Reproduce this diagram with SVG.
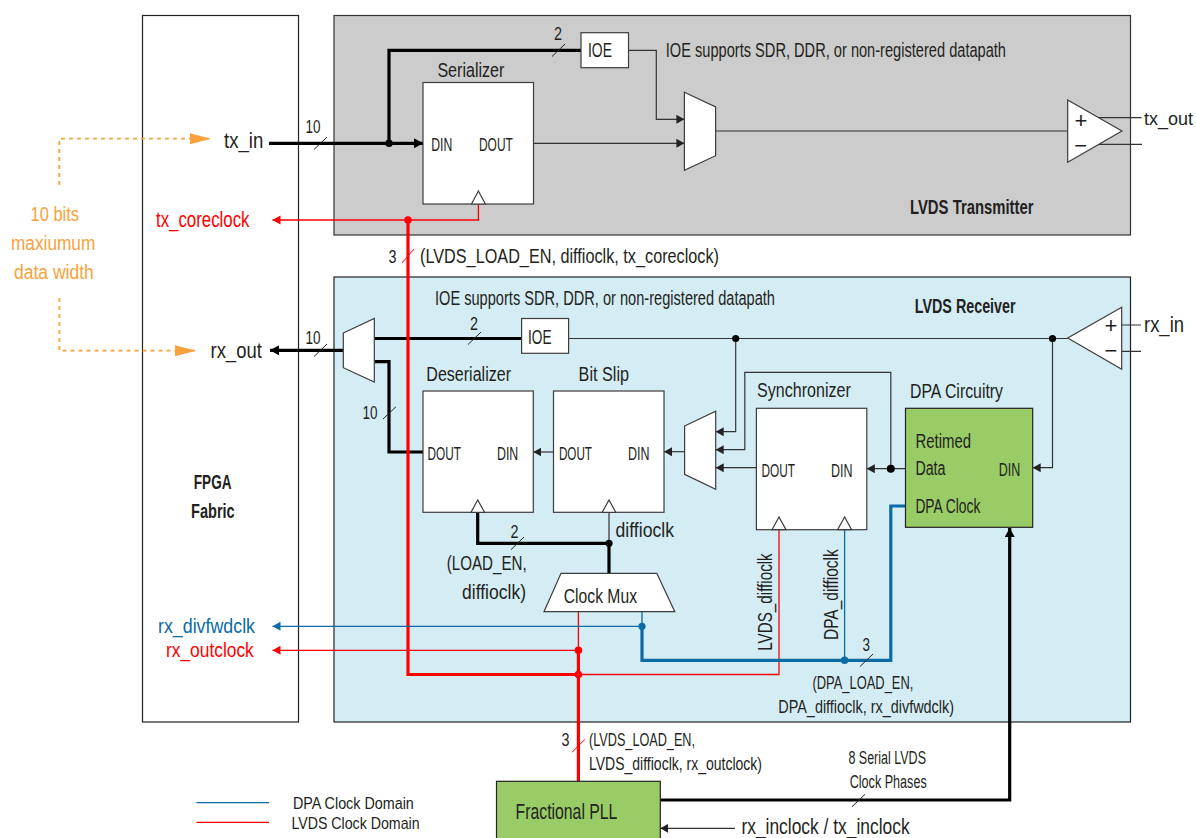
<svg xmlns="http://www.w3.org/2000/svg" width="1196" height="838" viewBox="0 0 1196 838">
<style>
text{font-family:"Liberation Sans","Open Sans",sans-serif;font-size:20px;fill:#231f20}
.b{font-weight:700;font-size:21px}
.s{font-size:18px}
.g{font-size:17px}
.l{font-size:22px}
.m{font-size:20px}
.n{font-size:18.5px}
.red{fill:#ff0000}
.blu{fill:#0a6ba5}
.org{fill:#f9a13c}
.sym{font-size:22px;text-anchor:middle}
.box{fill:#fff;stroke:#3c3c3c;stroke-width:1.2}
.grn{fill:#99cc66;stroke:#222;stroke-width:1.2}
.ln{fill:none;stroke:#333;stroke-width:1.2}
.th{fill:none;stroke:#000;stroke-width:3.2}
.r1{fill:none;stroke:#ff0000;stroke-width:1.3}
.r3{fill:none;stroke:#ff0000;stroke-width:3.2}
.b1{fill:none;stroke:#0a6ba5;stroke-width:1.3}
.b3{fill:none;stroke:#0a6ba5;stroke-width:3.2}
.sl{fill:none;stroke:#222;stroke-width:1}
.dash{fill:none;stroke:#f9a13c;stroke-width:1.8;stroke-dasharray:4 4}
</style>
<defs>
<marker id="ak" markerUnits="userSpaceOnUse" markerWidth="9" markerHeight="10" refX="8" refY="5" orient="auto"><path d="M0 0.5L8 5L0 9.5Z" fill="#222"/></marker>
<marker id="ar" markerUnits="userSpaceOnUse" markerWidth="9" markerHeight="10" refX="8" refY="5" orient="auto"><path d="M0 0.5L8 5L0 9.5Z" fill="#ff0000"/></marker>
<marker id="ab" markerUnits="userSpaceOnUse" markerWidth="9" markerHeight="10" refX="8" refY="5" orient="auto"><path d="M0 0.5L8 5L0 9.5Z" fill="#0a6ba5"/></marker>
<marker id="ao" markerUnits="userSpaceOnUse" markerWidth="22" markerHeight="12" refX="21" refY="6" orient="auto"><path d="M0 0.5L21 6L0 11.5Z" fill="#f9a13c"/></marker>
<marker id="ath" markerUnits="userSpaceOnUse" markerWidth="10" markerHeight="10" refX="9" refY="5" orient="auto"><path d="M0 0L9 5L0 10Z" fill="#000"/></marker>
</defs>

<g id="fpga-fabric">
<rect x="142.5" y="15.5" width="156" height="706.5" fill="#fff" stroke="#222" stroke-width="1.2"/>
<text class="b" x="193.8" y="489.3" textLength="37.8" lengthAdjust="spacingAndGlyphs">FPGA</text>
<text class="b" x="191" y="518.3" textLength="43.7" lengthAdjust="spacingAndGlyphs">Fabric</text>
</g>
<g id="lvds-transmitter">
<rect x="334" y="15.5" width="796.5" height="219.5" fill="#cccccc" stroke="#333" stroke-width="1.2"/>
<text class="b" x="910" y="214" textLength="123.5" lengthAdjust="spacingAndGlyphs">LVDS Transmitter</text>
<text x="665.8" y="57" textLength="340.2" lengthAdjust="spacingAndGlyphs">IOE supports SDR, DDR, or non-registered datapath</text>
</g>
<g id="lvds-receiver">
<rect x="334" y="277" width="796.5" height="445" fill="#d4edf5" stroke="#222" stroke-width="1.2"/>
<text class="b" x="914.8" y="313" textLength="100.8" lengthAdjust="spacingAndGlyphs">LVDS Receiver</text>
<text x="435" y="305" textLength="340" lengthAdjust="spacingAndGlyphs">IOE supports SDR, DDR, or non-registered datapath</text>
</g>

<g id="connectors">
<path class="ln" d="M628.5 50.3H656.3V119.3H684.4" marker-end="url(#ak)"/>
<path class="ln" d="M533.5 143.3H684.4" marker-end="url(#ak)"/>
<path class="ln" d="M715.6 131H1067.7"/>
<path class="ln" d="M1098 117.7H1141.5M1098 144.3H1142"/>
<path class="ln" d="M1121.7 325H1141M1121.7 351.3H1141"/>
<path class="ln" d="M568.6 338.5H1067.7"/>
<path class="ln" d="M735.7 338.5V431.7H715.7" marker-end="url(#ak)"/>
<path class="ln" d="M890.8 468.7V372.3H744.8V449.7H715.7" marker-end="url(#ak)"/>
<path class="ln" d="M756.4 467.7H715.7" marker-end="url(#ak)"/>
<path class="ln" d="M684.6 451.7H664" marker-end="url(#ak)"/>
<path class="ln" d="M553.5 452H533.3" marker-end="url(#ak)"/>
<path class="ln" d="M905.5 468.7H866.8" marker-end="url(#ak)"/>
<path class="ln" d="M1052.5 338.5V467.7H1032.7" marker-end="url(#ak)"/>
<path class="ln" d="M609 543.3V512.3"/>
<path class="ln" d="M735 828.3H660.3" marker-end="url(#ak)"/>
<path class="th" d="M269 143.3H423" marker-end="url(#ath)"/>
<path class="th" d="M389 143.3V50.3H581"/>
<path class="th" d="M343.3 350.3H270" marker-end="url(#ath)"/>
<path class="th" d="M374.3 338.5H521.6"/>
<path class="th" d="M374.3 361.7H389V452H423"/>
<path class="th" d="M477.7 512.3V543.3H609"/>
<path class="th" d="M609 543.3V573.3"/>
<path class="th" d="M660.3 800H1009.7V528" marker-end="url(#ath)"/>
<path class="r1" d="M478.4 204V220H272.5" marker-end="url(#ar)"/>
<path class="r3" d="M408 220V674.5H578.4"/>
<path class="r3" d="M578.4 650.3V781.3"/>
<path class="r1" d="M578.4 611.7V650.3H272.5" marker-end="url(#ar)"/>
<path class="r1" d="M578.4 674.5H779V529.7"/>
<path class="b1" d="M642 611.7V626.3H272.5" marker-end="url(#ab)"/>
<path class="b1" d="M844.6 529.7V660.3"/>
<path class="b3" d="M905.5 506H890.8V660.3H642V626.3"/>
<path class="dash" d="M59.3 185V138.7H211" marker-end="url(#ao)"/>
<path class="dash" d="M59.3 298V350.7H196" marker-end="url(#ao)"/>
<path class="b1" d="M196.4 802.7H269"/>
<path class="r1" d="M196.4 822.3H269"/>
<circle cx="389" cy="143.3" r="3.8" fill="#000"/>
<circle cx="408" cy="220" r="3.8" fill="#ff0000"/>
<circle cx="735.7" cy="338.5" r="3.6" fill="#000"/>
<circle cx="1052.5" cy="338.5" r="3.6" fill="#000"/>
<circle cx="890.8" cy="468.7" r="4" fill="#000"/>
<circle cx="609" cy="543.3" r="3.6" fill="#000"/>
<circle cx="642" cy="626.3" r="3.6" fill="#0a6ba5"/>
<circle cx="844.6" cy="660.3" r="3.8" fill="#0a6ba5"/>
<circle cx="578.4" cy="650.3" r="3.8" fill="#ff0000"/>
<circle cx="578.4" cy="674.5" r="3.8" fill="#ff0000"/>
<path class="sl" d="M314 149.5L327 137M314 356.5L327 344M552 56.5L565 44M468 344.5L481 332M383 419L396 406.7M511 549.7L524 537M860 666.5L873 654M852 806.7L865 794.3"/>
<path class="sl" style="stroke:#ff0000" d="M402 263L414 249M572 752.3L585 739.3"/>
<text class="s" x="305.5" y="133" textLength="15" lengthAdjust="spacingAndGlyphs">10</text>
<text class="s" x="305.5" y="344" textLength="15" lengthAdjust="spacingAndGlyphs">10</text>
<text class="s" x="362.4" y="419" textLength="15" lengthAdjust="spacingAndGlyphs">10</text>
<text class="s" x="554" y="40" textLength="8" lengthAdjust="spacingAndGlyphs">2</text>
<text class="s" x="470" y="330" textLength="8" lengthAdjust="spacingAndGlyphs">2</text>
<text class="s" x="510.6" y="538.3" textLength="8" lengthAdjust="spacingAndGlyphs">2</text>
<text class="s" x="388.4" y="263" textLength="8" lengthAdjust="spacingAndGlyphs">3</text>
<text class="s" x="561.5" y="746" textLength="8" lengthAdjust="spacingAndGlyphs">3</text>
<text class="s" x="862.4" y="651" textLength="7.5" lengthAdjust="spacingAndGlyphs">3</text>
<text x="420" y="263" textLength="299" lengthAdjust="spacingAndGlyphs">(LVDS_LOAD_EN, diffioclk, tx_coreclock)</text>
<text x="446.7" y="570" textLength="80" lengthAdjust="spacingAndGlyphs">(LOAD_EN,</text>
<text x="462" y="599" textLength="64" lengthAdjust="spacingAndGlyphs">diffioclk)</text>
<text x="615.5" y="536.7" textLength="58.5" lengthAdjust="spacingAndGlyphs">diffioclk</text>
<text class="s" x="812.5" y="689.3" textLength="100.8" lengthAdjust="spacingAndGlyphs">(DPA_LOAD_EN,</text>
<text class="s" x="778.3" y="713" textLength="175.7" lengthAdjust="spacingAndGlyphs">DPA_diffioclk, rx_divfwdclk)</text>
<text class="s" x="589" y="746" textLength="106" lengthAdjust="spacingAndGlyphs">(LVDS_LOAD_EN,</text>
<text class="s" x="589" y="770" textLength="173" lengthAdjust="spacingAndGlyphs">LVDS_diffioclk, rx_outclock)</text>
<text class="s" x="848.4" y="764" textLength="77.6" lengthAdjust="spacingAndGlyphs">8 Serial LVDS</text>
<text class="s" x="849.7" y="788" textLength="77" lengthAdjust="spacingAndGlyphs">Clock Phases</text>
<text transform="translate(772 650.7) rotate(-90)" x="0" y="0" textLength="97.4" lengthAdjust="spacingAndGlyphs">LVDS_diffioclk</text>
<text transform="translate(837.8 640) rotate(-90)" x="0" y="0" textLength="90.7" lengthAdjust="spacingAndGlyphs">DPA_diffioclk</text>
<text class="org" x="30.6" y="221" textLength="48.4" lengthAdjust="spacingAndGlyphs">10 bits</text>
<text class="org" x="11" y="250" textLength="84.3" lengthAdjust="spacingAndGlyphs">maxiumum</text>
<text class="org" x="14" y="278.7" textLength="79.8" lengthAdjust="spacingAndGlyphs">data width</text>
</g>

<g id="tx-in"><text class="l" x="224" y="148.3" textLength="39.3" lengthAdjust="spacingAndGlyphs">tx_in</text></g>
<g id="tx-coreclock"><text class="l red" x="156" y="226.7" textLength="93.5" lengthAdjust="spacingAndGlyphs">tx_coreclock</text></g>
<g id="rx-out"><text class="l" x="210.5" y="357.7" textLength="51.3" lengthAdjust="spacingAndGlyphs">rx_out</text></g>
<g id="rx-divfwdclk"><text class="m blu" x="158" y="632.7" textLength="97" lengthAdjust="spacingAndGlyphs">rx_divfwdclk</text></g>
<g id="rx-outclock"><text class="m red" x="166" y="656.7" textLength="87.8" lengthAdjust="spacingAndGlyphs">rx_outclock</text></g>
<g id="tx-out"><text class="n" x="1144" y="124.5" textLength="49" lengthAdjust="spacingAndGlyphs">tx_out</text></g>
<g id="rx-in"><text class="l" x="1144" y="331.5" textLength="40" lengthAdjust="spacingAndGlyphs">rx_in</text></g>
<g id="inclock"><text class="l" x="741.4" y="834" textLength="168.2" lengthAdjust="spacingAndGlyphs">rx_inclock / tx_inclock</text></g>

<g id="tx-ioe">
<rect class="box" x="581" y="32.7" width="47.5" height="35"/>
<text x="588" y="57" textLength="24" lengthAdjust="spacingAndGlyphs">IOE</text>
</g>
<g id="serializer">
<text x="437.4" y="76.7" textLength="67" lengthAdjust="spacingAndGlyphs">Serializer</text>
<rect class="box" x="423" y="82.5" width="110.5" height="121.5"/>
<path class="box" d="M471.5 204L478.4 191L485.3 204Z"/>
<text class="s" x="431.3" y="151" textLength="21" lengthAdjust="spacingAndGlyphs">DIN</text>
<text class="s" x="479" y="151" textLength="33.8" lengthAdjust="spacingAndGlyphs">DOUT</text>
</g>
<g id="tx-mux"><path class="box" d="M684.4 92.3L715.6 107V155.7L684.4 170.3Z"/></g>
<g id="tx-buffer">
<path class="box" d="M1067.7 100L1122 131L1067.7 162.3Z"/>
<text class="sym" x="1081" y="128">+</text>
<text class="sym" x="1080.6" y="153">−</text>
</g>
<g id="rx-buffer">
<path class="box" d="M1067.7 338L1121.7 307.3V369.3Z"/>
<text class="sym" x="1111" y="333">+</text>
<text class="sym" x="1111" y="358">−</text>
</g>
<g id="rx-mux"><path class="box" d="M343.3 333L374.3 318.5V382L343.3 367.7Z"/></g>
<g id="rx-ioe">
<rect class="box" x="521.6" y="318.5" width="47" height="34.8"/>
<text x="528" y="344" textLength="23.5" lengthAdjust="spacingAndGlyphs">IOE</text>
</g>
<g id="deserializer">
<text x="426.3" y="380.7" textLength="84.7" lengthAdjust="spacingAndGlyphs">Deserializer</text>
<rect class="box" x="423" y="391" width="110.3" height="121.3"/>
<path class="box" d="M471 512.3L477.7 500L484.6 512.3Z"/>
<text class="s" x="427.6" y="460" textLength="33.4" lengthAdjust="spacingAndGlyphs">DOUT</text>
<text class="s" x="497" y="460" textLength="21.3" lengthAdjust="spacingAndGlyphs">DIN</text>
</g>
<g id="bit-slip">
<text x="578.6" y="380.7" textLength="50.4" lengthAdjust="spacingAndGlyphs">Bit Slip</text>
<rect class="box" x="553.5" y="391" width="110.5" height="121.3"/>
<path class="box" d="M602.2 512.3L609 500L615.8 512.3Z"/>
<text class="s" x="558.9" y="460" textLength="33.1" lengthAdjust="spacingAndGlyphs">DOUT</text>
<text class="s" x="628" y="460" textLength="21.5" lengthAdjust="spacingAndGlyphs">DIN</text>
</g>
<g id="bitslip-mux"><path class="box" d="M684.6 426L715.7 411.3V489.3L684.6 474.3Z"/></g>
<g id="synchronizer">
<text x="757" y="397.3" textLength="93.8" lengthAdjust="spacingAndGlyphs">Synchronizer</text>
<rect class="box" x="756.4" y="408.3" width="110.4" height="121.4"/>
<path class="box" d="M772 529.7L779 517L786 529.7Z"/>
<path class="box" d="M837.6 529.7L844.6 517L851.6 529.7Z"/>
<text class="s" x="761.5" y="477.3" textLength="33.5" lengthAdjust="spacingAndGlyphs">DOUT</text>
<text class="s" x="831" y="477.3" textLength="21.5" lengthAdjust="spacingAndGlyphs">DIN</text>
</g>
<g id="dpa-circuitry">
<text x="910" y="398" textLength="93" lengthAdjust="spacingAndGlyphs">DPA Circuitry</text>
<rect class="grn" x="905.5" y="408.3" width="127.2" height="119"/>
<text x="915.4" y="448" textLength="55.6" lengthAdjust="spacingAndGlyphs">Retimed</text>
<text x="915.4" y="475" textLength="30.1" lengthAdjust="spacingAndGlyphs">Data</text>
<text class="s" x="998.8" y="476" textLength="21.5" lengthAdjust="spacingAndGlyphs">DIN</text>
<text x="915.4" y="512.7" textLength="64.9" lengthAdjust="spacingAndGlyphs">DPA Clock</text>
</g>
<g id="clock-mux">
<path class="box" d="M561 573.3H656.8L674.8 611.7H544Z"/>
<text x="563.8" y="602.7" textLength="73.2" lengthAdjust="spacingAndGlyphs">Clock Mux</text>
</g>
<g id="fractional-pll">
<rect class="grn" x="496.5" y="781.3" width="163.8" height="70"/>
<text class="l" x="515.6" y="819.3" textLength="101.8" lengthAdjust="spacingAndGlyphs">Fractional PLL</text>
</g>
<g id="legend">
<text class="g" x="293" y="809" textLength="120.8" lengthAdjust="spacingAndGlyphs">DPA Clock Domain</text>
<text class="g" x="291.4" y="828.7" textLength="128.2" lengthAdjust="spacingAndGlyphs">LVDS Clock Domain</text>
</g>
</svg>
